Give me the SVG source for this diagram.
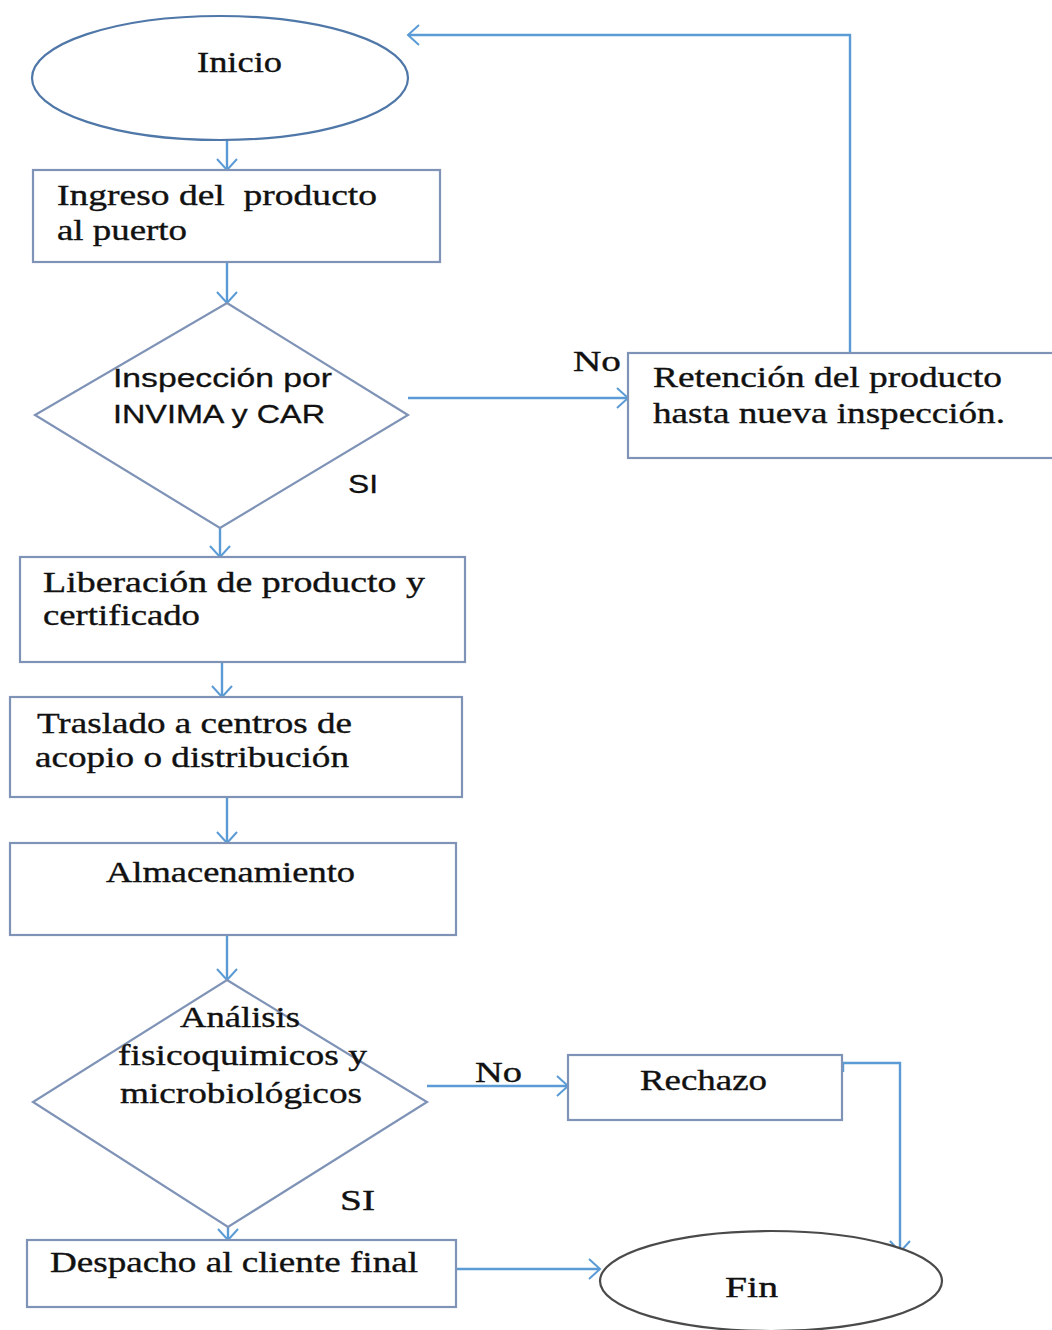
<svg xmlns="http://www.w3.org/2000/svg" width="1052" height="1330" viewBox="0 0 1052 1330">
<defs>
<marker id="arr" markerUnits="userSpaceOnUse" markerWidth="14" markerHeight="24" refX="12" refY="12" orient="auto" viewBox="0 0 14 24">
<path d="M1,2 L12,12 L1,22" fill="none" stroke="#5B9BD5" stroke-width="2"/>
</marker>
</defs>
<style>
.shape{fill:#fff;stroke:#7F93B7;stroke-width:2.2}
.oval{fill:#fff;stroke:#4F77A8;stroke-width:2.2}
.oval2{fill:#fff;stroke:#4a4a4a;stroke-width:2.2}
.conn{fill:none;stroke:#5B9BD5;stroke-width:2.4;marker-end:url(#arr)}
.t{font-family:"Liberation Serif","Times New Roman",serif;font-size:29px;fill:#111;stroke:#111;stroke-width:0.35}
.s{font-family:"Liberation Sans",Arial,sans-serif;font-size:25px;fill:#111;stroke:#111;stroke-width:0.3}
</style>
<rect width="1052" height="1330" fill="#fff"/>
<g id="connectors">
<path class="conn" d="M227,130 V170"/>
<path class="conn" d="M227,255 V303"/>
<path class="conn" d="M408,398 H628"/>
<path class="conn" d="M850,353 V35 H408"/>
<path class="conn" d="M220,508 V557"/>
<path class="conn" d="M222,647 V697"/>
<path class="conn" d="M227,790 V843"/>
<path class="conn" d="M227,928 V980"/>
<path class="conn" d="M427,1086 H568"/>
<path class="conn" d="M228,1195 V1240"/>
<path class="conn" d="M843,1072 V1063 H900 V1252"/>
<path class="conn" d="M456,1269 H600"/>
</g>
<g id="inicio">
<ellipse class="oval" cx="220" cy="78" rx="188" ry="62"/>
<text class="t" x="197" y="72" textLength="85" lengthAdjust="spacingAndGlyphs">Inicio</text>
</g>
<g id="ingreso">
<rect class="shape" x="33" y="170" width="407" height="92"/>
<text class="t" x="57" y="205" textLength="320" lengthAdjust="spacingAndGlyphs" xml:space="preserve">Ingreso del  producto</text>
<text class="t" x="57" y="240" textLength="130" lengthAdjust="spacingAndGlyphs">al puerto</text>
</g>
<g id="inspeccion">
<polygon class="shape" points="227,303 408,415 220,528 35,415"/>
<text class="s" x="113" y="387" textLength="219" lengthAdjust="spacingAndGlyphs">Inspección por</text>
<text class="s" x="113" y="423" textLength="212" lengthAdjust="spacingAndGlyphs">INVIMA y CAR</text>
</g>
<g id="label-si1">
<text class="s" x="348" y="493" textLength="30" lengthAdjust="spacingAndGlyphs">SI</text>
</g>
<g id="label-no1">
<text class="t" x="573" y="371" textLength="48" lengthAdjust="spacingAndGlyphs">No</text>
</g>
<g id="retencion">
<rect class="shape" x="628" y="353" width="430" height="105"/>
<text class="t" x="653" y="387" textLength="349" lengthAdjust="spacingAndGlyphs">Retención del producto</text>
<text class="t" x="653" y="423" textLength="352" lengthAdjust="spacingAndGlyphs">hasta nueva inspección.</text>
</g>
<g id="liberacion">
<rect class="shape" x="20" y="557" width="445" height="105"/>
<text class="t" x="43" y="592" textLength="382" lengthAdjust="spacingAndGlyphs">Liberación de producto y</text>
<text class="t" x="43" y="625" textLength="157" lengthAdjust="spacingAndGlyphs">certificado</text>
</g>
<g id="traslado">
<rect class="shape" x="10" y="697" width="452" height="100"/>
<text class="t" x="37" y="733" textLength="315" lengthAdjust="spacingAndGlyphs">Traslado a centros de</text>
<text class="t" x="35" y="767" textLength="314" lengthAdjust="spacingAndGlyphs">acopio o distribución</text>
</g>
<g id="almacenamiento">
<rect class="shape" x="10" y="843" width="446" height="92"/>
<text class="t" x="106" y="882" textLength="249" lengthAdjust="spacingAndGlyphs">Almacenamiento</text>
</g>
<g id="analisis">
<polygon class="shape" points="227,980 427,1102 228,1227 33,1102"/>
<text class="t" x="180" y="1027" textLength="120" lengthAdjust="spacingAndGlyphs">Análisis</text>
<text class="t" x="118" y="1065" textLength="249" lengthAdjust="spacingAndGlyphs">fisicoquimicos y</text>
<text class="t" x="120" y="1103" textLength="242" lengthAdjust="spacingAndGlyphs">microbiológicos</text>
</g>
<g id="label-si2">
<text class="t" x="340" y="1210" textLength="35" lengthAdjust="spacingAndGlyphs">SI</text>
</g>
<g id="label-no2">
<text class="t" x="475" y="1082" textLength="47" lengthAdjust="spacingAndGlyphs">No</text>
</g>
<g id="rechazo">
<rect class="shape" x="568" y="1055" width="274" height="65"/>
<text class="t" x="640" y="1090" textLength="127" lengthAdjust="spacingAndGlyphs">Rechazo</text>
</g>
<g id="despacho">
<rect class="shape" x="27" y="1240" width="429" height="67"/>
<text class="t" x="50" y="1272" textLength="368" lengthAdjust="spacingAndGlyphs">Despacho al cliente final</text>
</g>
<g id="fin">
<ellipse class="oval2" cx="771" cy="1281" rx="171" ry="50"/>
<text class="t" x="725" y="1297" textLength="53" lengthAdjust="spacingAndGlyphs">Fin</text>
</g>
</svg>
